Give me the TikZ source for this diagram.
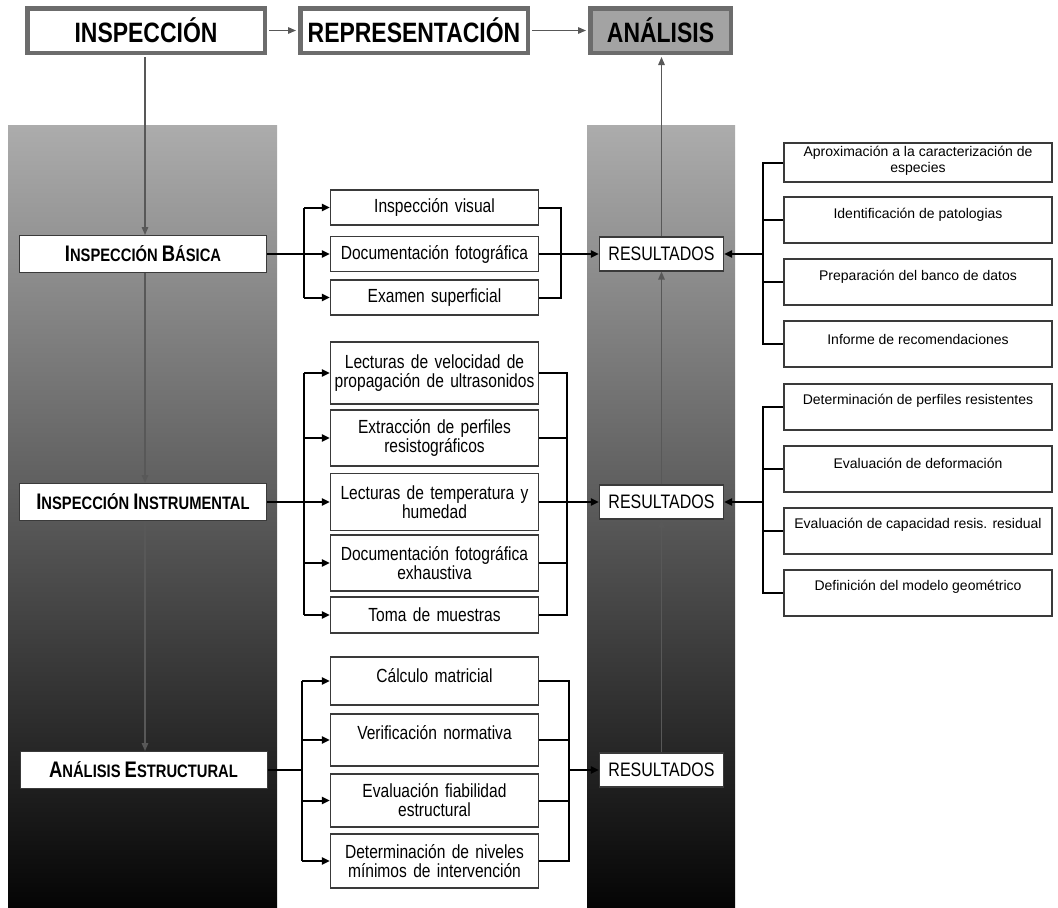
\documentclass[tikz,border=0pt]{standalone}
\usepackage{fontspec}
\setmainfont{Liberation Sans}
\newfontfamily\narrowf[FakeStretch=0.82]{Liberation Sans}
\usetikzlibrary{arrows.meta}
\definecolor{frameg}{HTML}{6C6C6C}
\definecolor{anafill}{HTML}{A3A3A3}
\definecolor{vline}{HTML}{585858}
\definecolor{bord}{HTML}{3A3A3A}
\definecolor{pTop}{HTML}{ACACAC}
\definecolor{pMid}{HTML}{5E5E5E}
\definecolor{pBot}{HTML}{050505}
\newcommand\scw[2]{{\fontsize{22.5}{22.5}\selectfont #1}{\fontsize{18}{18}\selectfont #2}}
\begin{document}
\begin{tikzpicture}[x=1pt,y=-1pt,
 title/.style={draw=frameg, line width=4.5pt, fill=white, minimum height=44.5pt, inner sep=0pt, font=\narrowf\bfseries\fontsize{28}{28}\selectfont},
 lbox/.style={draw=bord, line width=1pt, fill=white, minimum width=247pt, minimum height=37pt, inner sep=0pt, font=\narrowf\bfseries\fontsize{18}{18}\selectfont},
 mbox/.style={draw=bord, line width=1.2pt, fill=white, minimum width=208pt, inner sep=0pt, text width=206pt, align=center, font=\narrowf\fontsize{19}{19}\selectfont},
 res/.style={draw=bord, line width=1.2pt, fill=white, minimum width=124pt, minimum height=34pt, inner sep=0pt, font=\narrowf\fontsize{19.5}{19.5}\selectfont},
 rbox/.style={draw=bord, line width=1.2pt, fill=white, minimum width=268pt, minimum height=46pt, inner sep=0pt},
 rtext/.style={font=\fontsize{14}{16}\selectfont, align=center, inner sep=0pt},
 conn/.style={line width=2pt, black},
 tip/.style={-{Triangle[length=8pt,width=7pt]}},
 vconn/.style={line width=1.4pt, vline, -{Triangle[length=8pt,width=6.5pt]}},
]
\useasboundingbox (0,0) rectangle (1058,908);
\fill[white] (0,0) rectangle (1058,908);
% gradient panels
\shade[top color=pTop, middle color=pMid, bottom color=pBot] (8,125) rectangle (277,908);
\shade[top color=pTop, middle color=pMid, bottom color=pBot] (587,125) rectangle (735,908);

% top titles
\node[title, minimum width=237.5pt] (ins) at (146,30.5) {INSPECCIÓN};
\node[title, minimum width=227.5pt] (rep) at (414,30.5) {REPRESENTACIÓN};
\node[title, minimum width=140.5pt, fill=anafill] (ana) at (660.5,30.5) {ANÁLISIS};

% left stage boxes
\node[lbox] (ib) at (143,254) {\scw{I}{NSPECCIÓN} \scw{B}{ÁSICA}};
\node[lbox] (ii) at (143,502) {\scw{I}{NSPECCIÓN} \scw{I}{NSTRUMENTAL}};
\node[lbox] (ae) at (143.5,770) {\scw{A}{NÁLISIS} \scw{E}{STRUCTURAL}};

% middle boxes
\node[mbox, minimum height=35pt] (iv) at (434.5,207.5) {Inspección visual};
\node[mbox, minimum height=35pt] (df) at (434.5,254) {Documentación fotográfica};
\node[mbox, minimum height=35pt] (es) at (434.5,297.5) {Examen superficial};
\node[mbox, minimum height=62pt] (lv) at (434.5,373) {Lecturas de velocidad de\\propagación de ultrasonidos};
\node[mbox, minimum height=56pt] (ep) at (434.5,438) {Extracción de perfiles\\resistográficos};
\node[mbox, minimum height=57pt] (lt) at (434.5,502) {Lecturas de temperatura y\\humedad};
\node[mbox, minimum height=56pt] (de) at (434.5,563) {Documentación fotográfica\\exhaustiva};
\node[mbox, minimum height=36pt] (tm) at (434.5,615) {Toma de muestras};
\node[mbox, minimum height=48pt] (cm) at (434.5,681) {Cálculo matricial\\[-7pt]\mbox{}};
\node[mbox, minimum height=52pt] (vn) at (434.5,740) {Verificación normativa\\[-3pt]\mbox{}};
\node[mbox, minimum height=53pt] (ef) at (434.5,800.5) {Evaluación fiabilidad\\estructural};
\node[mbox, minimum height=54pt] (dn) at (434.5,861) {Determinación de niveles\\mínimos de intervención};

% results
\node[res] (r1) at (661.5,254) {RESULTADOS};
\node[res] (r2) at (661.5,502) {RESULTADOS};
\node[res] (r3) at (661.5,770) {RESULTADOS};

% right boxes
\node[rbox, minimum height=39pt] (a1) at (918,162.5) {};
\node[rbox] (a2) at (918,220) {};
\node[rbox] (a3) at (918,282) {};
\node[rbox] (a4) at (918,344) {};
\node[rbox] (b1) at (918,407) {};
\node[rbox] (b2) at (918,469) {};
\node[rbox] (b3) at (918,531) {};
\node[rbox] (b4) at (918,593) {};
\node[rtext] (ta1) at (918,160.5) {Aproximación a la caracterización de\\especies};
\node[rtext] (ta2) at (918,215) {Identificación de patologias};
\node[rtext] (ta3) at (918,277) {Preparación del banco de datos};
\node[rtext] (ta4) at (918,339) {Informe de recomendaciones};
\node[rtext] (tb1) at (918,401) {Determinación de perfiles resistentes};
\node[rtext] (tb2) at (918,463) {Evaluación de deformación};
\node[rtext] (tb3) at (918,525) {Evaluación de capacidad resis. residual};
\node[rtext] (tb4) at (918,587) {Definición del modelo geométrico};

% bracket coordinates
\coordinate (VL) at (145,0);
\coordinate (L1) at (304,0);
\coordinate (R1) at (561,0);
\coordinate (L2) at (304,0);
\coordinate (R2) at (567,0);
\coordinate (L3) at (302,0);
\coordinate (R3) at (569,0);
\coordinate (RA) at (763,0);

% top flow
\draw[vconn, shorten >=2pt, shorten <=2pt] (ins.east) -- (rep.west);
\draw[vconn, shorten >=2pt, shorten <=2pt] (rep.east) -- (ana.west);

% left vertical flow
\draw[vconn, shorten <=2pt] (VL |- ins.south) -- (VL |- ib.north);
\draw[vconn] (VL |- ib.south) -- (VL |- ii.north);
\draw[vconn] (VL |- ii.south) -- (VL |- ae.north);

% right vertical flow
\draw[vconn] (r3.north) -- (r2.south);
\draw[vconn] (r2.north) -- (r1.south);
\draw[vconn, shorten >=2pt] (r1.north) -- (r1.north |- ana.south);

% group 1
\draw[conn,tip] (ib.east) -- (df.west);
\draw[conn] (L1 |- iv.west) -- (L1 |- es.west);
\draw[conn,tip] (L1 |- iv.west) -- (iv.west);
\draw[conn,tip] (L1 |- es.west) -- (es.west);
\draw[conn] (iv.east) -| (R1 |- es.east) -- (es.east);
\draw[conn,tip] (df.east) -- (r1.west);

% group 2
\draw[conn,tip] (ii.east) -- (lt.west);
\draw[conn] (L2 |- lv.west) -- (L2 |- tm.west);
\foreach \n in {lv,ep,de,tm} \draw[conn,tip] (L2 |- \n.west) -- (\n.west);
\draw[conn] (lv.east) -| (R2 |- tm.east) -- (tm.east);
\draw[conn] (ep.east) -- (R2 |- ep.east);
\draw[conn] (de.east) -- (R2 |- de.east);
\draw[conn,tip] (lt.east) -- (r2.west);

% group 3
\draw[conn] (ae.east) -- (L3 |- ae.east);
\draw[conn] (L3 |- cm.west) -- (L3 |- dn.west);
\foreach \n in {cm,vn,ef,dn} \draw[conn,tip] (L3 |- \n.west) -- (\n.west);
\draw[conn] (cm.east) -| (R3 |- dn.east) -- (dn.east);
\draw[conn] (vn.east) -- (R3 |- vn.east);
\draw[conn] (ef.east) -- (R3 |- ef.east);
\draw[conn,tip] (R3 |- r3.west) -- (r3.west);

% right groups
\draw[conn] (a1.west) -| (RA |- a4.west) -- (a4.west);
\draw[conn] (a2.west) -- (RA |- a2.west);
\draw[conn] (a3.west) -- (RA |- a3.west);
\draw[conn,tip] (RA |- r1.east) -- (r1.east);
\draw[conn] (b1.west) -| (RA |- b4.west) -- (b4.west);
\draw[conn] (b2.west) -- (RA |- b2.west);
\draw[conn] (b3.west) -- (RA |- b3.west);
\draw[conn,tip] (RA |- r2.east) -- (r2.east);
\end{tikzpicture}
\end{document}
